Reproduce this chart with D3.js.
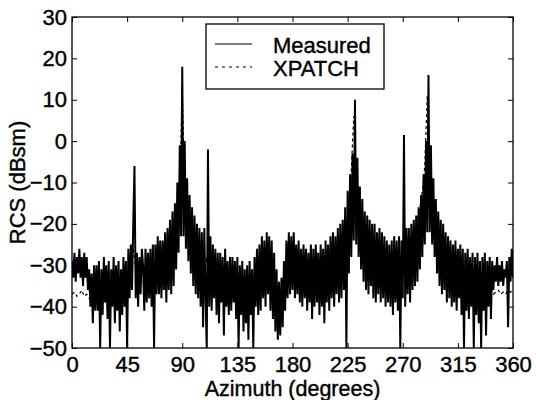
<!DOCTYPE html>
<html>
<head>
<meta charset="utf-8">
<script src="https://cdn.jsdelivr.net/npm/d3@7"></script>
<style>
  html, body { margin: 0; padding: 0; background: #fff; }
  svg { display: block; }
  text { font-family: "Liberation Sans", Arial, Helvetica, sans-serif; fill: #000; }
</style>
</head>
<body>
<svg id="chart" width="536" height="400"></svg>
<script>
// ---- data ----
// Measured RCS, one value per degree of azimuth (0..360)
const measuredAzStep = 1;
const measured = [
  -29, -33, -27, -34, -28, -32, -26, -33, -28, -35,
  -27, -33, -28, -36, -31, -40, -32, -44, -30, -41,
  -30, -41, -29, -50, -31, -42, -28, -39, -30, -43,
  -29, -50, -31, -40, -28, -44, -30, -41, -29, -46,
  -31, -42, -28, -40, -29, -50, -26, -38, -25, -36,
  -20, -6, -38, -27, -40, -28, -37, -26, -30, -41,
  -26, -39, -27, -38, -26, -40, -25, -50, -25, -37,
  -23, -37, -24, -38, -24, -36, -22, -39, -21, -36,
  -19, -37, -17, -35, -15, -31, -10, -27, -1, -23,
  18, -23, 0, -26, -9, -29, -13, -32, -16, -35,
  -18, -37, -20, -38, -21, -40, -22, -45, -21, -38,
  -50, -2, -40, -23, -41, -25, -38, -26, -42, -27,
  -44, -27, -39, -28, -47, -26, -40, -29, -42, -28,
  -41, -28, -39, -29, -43, -28, -50, -30, -42, -29,
  -46, -31, -44, -30, -48, -29, -42, -31, -50, -28,
  -40, -26, -42, -25, -41, -23, -38, -24, -40, -22,
  -37, -23, -41, -24, -43, -27, -46, -31, -48, -34,
  -47, -33, -45, -29, -41, -24, -38, -22, -37, -23,
  -36, -22, -38, -25, -37, -24, -39, -26, -40, -25,
  -38, -26, -41, -27, -39, -25, -43, -26, -40, -25,
  -39, -27, -42, -25, -40, -26, -44, -24, -39, -25,
  -41, -23, -38, -22, -40, -23, -37, -21, -39, -20,
  -38, -19, -36, -16, -50, -12, -32, -8, -28, -3,
  -24, 10, -25, -4, -28, -11, -31, -14, -34, -17,
  -36, -18, -37, -19, -35, -20, -38, -20, -39, -22,
  -37, -21, -39, -22, -38, -23, -40, -24, -39, -25,
  -40, -24, -42, -23, -39, -24, -41, -23, -50, -24,
  -38, 1.5, -40, -21, -37, -21, -39, -20, -36, -19,
  -35, -18, -34, -16, -31, -13, -28, -8, -25, 0,
  -22, 16, -22, -1, -25, -9, -28, -14, -32, -17,
  -35, -19, -37, -20, -36, -22, -39, -23, -38, -24,
  -40, -25, -39, -24, -41, -26, -38, -25, -42, -26,
  -50, -27, -41, -26, -43, -28, -40, -27, -50, -28,
  -42, -27, -44, -29, -50, -28, -41, -27, -47, -29,
  -40, -28, -43, -29, -36, -30, -34, -28, -35, -30,
  -34, -29, -35, -31, -33, -29, -45, -28, -34, -26, -33
];

// XPATCH prediction, one value every 2 degrees (0..360)
const xpatchAzStep = 2;
const xpatch = [
  -37, -36.5, -37.5, -37, -36, -37.5, -37, -38, -37, -38,
  -38, -37, -39, -38, -37, -38, -39, -37, -38, -36,
  -36, -35, -34, -32, -29, -26, -31, -34, -35, -34,
  -34, -33, -33, -32, -32, -31, -30, -30, -29, -28,
  -28, -27, -25, -21, -13, 13, -13, -21, -24, -26,
  -28, -29, -30, -31, -32, -28, -33, -34, -34, -35,
  -35, -36, -35, -36, -37, -36, -37, -36, -37, -36,
  -37, -36, -37, -36, -36, -35, -36, -35, -36, -35,
  -35.5, -36, -35.5, -36, -35.5, -36, -35.5, -36, -35.5, -35,
  -35, -36, -35, -34, -35, -34, -33, -34, -33, -32,
  -33, -32, -31, -32, -31, -30, -30, -29, -28, -27,
  -26, -24, -21, -15, -7, 6, -9, -17, -22, -25,
  -26, -28, -29, -30, -31, -31, -32, -32, -32, -32,
  -31, -31, -30, -30, -29, -27, -28, -26, -24, -22,
  -21, -19, -16, -12, -6, 11, -7, -14, -19, -22,
  -24, -26, -27, -28, -29, -30, -31, -32, -33, -34,
  -34, -35, -35, -36, -36, -36, -37, -36, -37, -36,
  -36.5, -36, -37, -36.5, -36, -37, -36.5, -37, -36, -36.5, -36
];

const xTicks = [0, 45, 90, 135, 180, 225, 270, 315, 360];
const yTicks = [-50, -40, -30, -20, -10, 0, 10, 20, 30];
const seriesNames = ["Measured", "XPATCH"];
const xLabel = "Azimuth (degrees)";
const yLabel = "RCS (dBsm)";

// ---- layout ----
const M = { l: 72, r: 513, t: 17, b: 348 };
const FONT = 22;
const FF = '"Liberation Sans", Arial, Helvetica, sans-serif';

const svg = d3.select("#chart");

const x = d3.scaleLinear().domain([0, 360]).range([M.l, M.r]);
const y = d3.scaleLinear().domain([-50, 30]).range([M.b, M.t]);

svg.append("defs").append("clipPath").attr("id", "plotclip")
  .append("rect").attr("x", M.l).attr("y", M.t)
  .attr("width", M.r - M.l).attr("height", M.b - M.t);

const plot = svg.append("g").attr("clip-path", "url(#plotclip)");

const measLine = d3.line()
  .x((d, i) => x(i * measuredAzStep))
  .y(d => y(d));
const xpLine = d3.line()
  .x((d, i) => x(i * xpatchAzStep))
  .y(d => y(d));

// XPATCH first (it shows where the measured trace does not cover it)
plot.append("path")
  .datum(xpatch)
  .attr("d", xpLine)
  .attr("fill", "none")
  .attr("stroke", "#000")
  .attr("stroke-width", 1.2)
  .attr("stroke-dasharray", "3,3");

plot.append("path")
  .datum(measured)
  .attr("d", measLine)
  .attr("fill", "none")
  .attr("stroke", "#000")
  .attr("stroke-width", 2)
  .attr("stroke-linejoin", "bevel");

// ---- axes ----
const fmt = d3.format("d");
const gx = svg.append("g").attr("transform", `translate(0,${M.b})`)
  .call(d3.axisBottom(x).tickValues(xTicks).tickFormat(fmt)
    .tickSizeInner(-5).tickSizeOuter(0).tickPadding(8));
const gy = svg.append("g").attr("transform", `translate(${M.l},0)`)
  .call(d3.axisLeft(y).tickValues(yTicks).tickFormat(fmt)
    .tickSizeInner(-5).tickSizeOuter(0).tickPadding(5));
const gt = svg.append("g").attr("transform", `translate(0,${M.t})`)
  .call(d3.axisTop(x).tickValues(xTicks).tickFormat("")
    .tickSizeInner(-5).tickSizeOuter(0));
const gr = svg.append("g").attr("transform", `translate(${M.r},0)`)
  .call(d3.axisRight(y).tickValues(yTicks).tickFormat("")
    .tickSizeInner(-5).tickSizeOuter(0));

[gx, gy, gt, gr].forEach(g => {
  g.select(".domain").remove();
  g.selectAll(".tick line").attr("stroke", "#000").attr("stroke-width", 1);
  g.selectAll("text").attr("font-size", FONT)
    .attr("font-family", FF)
    .attr("fill", "#000")
    .attr("stroke", "#000").attr("stroke-width", 0.4);
});

svg.append("rect")
  .attr("x", M.l).attr("y", M.t)
  .attr("width", M.r - M.l).attr("height", M.b - M.t)
  .attr("fill", "none").attr("stroke", "#000").attr("stroke-width", 1.3);

// axis titles
svg.append("text")
  .attr("x", (M.l + M.r) / 2).attr("y", 396)
  .attr("text-anchor", "middle").attr("font-size", 21.5)
  .attr("stroke", "#000").attr("stroke-width", 0.4)
  .text(xLabel);
svg.append("text")
  .attr("transform", `translate(25,${(M.t + M.b) / 2}) rotate(-90)`)
  .attr("text-anchor", "middle").attr("font-size", FONT)
  .attr("stroke", "#000").attr("stroke-width", 0.4)
  .text(yLabel);

// ---- legend ----
const lg = svg.append("g");
lg.append("rect")
  .attr("x", 206).attr("y", 24).attr("width", 178).attr("height", 65)
  .attr("fill", "#fff").attr("stroke", "#000").attr("stroke-width", 1.3);
const legendRows = [
  { name: seriesNames[0], dash: null, y: 44 },
  { name: seriesNames[1], dash: "3,4", y: 67 }
];
legendRows.forEach(r => {
  const ln = lg.append("line")
    .attr("x1", 215).attr("x2", 252)
    .attr("y1", r.y).attr("y2", r.y)
    .attr("stroke", "#000").attr("stroke-width", 1.2);
  if (r.dash) ln.attr("stroke-dasharray", r.dash);
  lg.append("text")
    .attr("x", 273).attr("y", r.y + 8.5)
    .attr("font-size", FONT)
    .attr("stroke", "#000").attr("stroke-width", 0.4)
    .text(r.name);
});
</script>
</body>
</html>
